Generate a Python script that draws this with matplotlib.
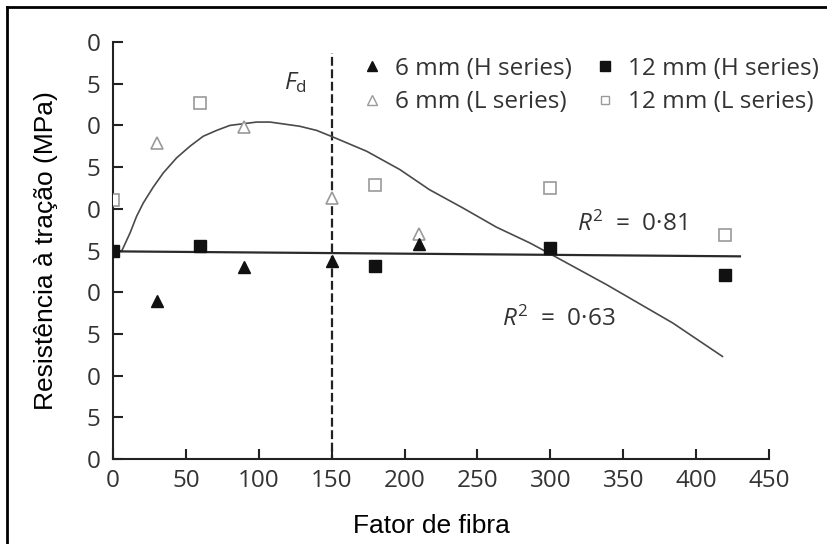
import matplotlib
matplotlib.use("Agg")
import matplotlib.pyplot as plt
from matplotlib.lines import Line2D

# ==========================================================
# DATA
# ==========================================================

x_6mm = [30, 90, 150, 210]
x_12mm = [0, 60, 180, 300, 420]

h6_y = [18.9, 23.0, 23.8, 25.8]
l6_y = [37.9, 39.8, 31.3, 27.0]
h12_y = [24.9, 25.5, 23.1, 25.3, 22.1]
l12_y = [31.1, 42.7, 32.8, 32.5, 26.9]

# fitted curve (L series)
curve_x = [5.9, 11.7, 16.2, 20.8, 27.6, 34.5, 43.6, 52.8, 61.9, 71.1,
           80.2, 89.4, 98.5, 107.7, 128, 139.7, 151, 174, 196.8,
           217, 240, 263, 286, 304, 338.6, 384, 418]
curve_y = [24.9, 27.1, 29.1, 30.7, 32.6, 34.3, 36.1, 37.5, 38.7, 39.4,
           40.0, 40.2, 40.4, 40.4, 39.9, 39.4, 38.6, 36.9, 34.7,
           32.3, 30.1, 27.8, 25.9, 24.2, 20.9, 16.3, 12.3]

# fitted line (H series)
line_x = [0, 430]
line_y = [24.9, 24.3]

fd_x = 150
fd_top = 48.7

x_ticks = [0, 50, 100, 150, 200, 250, 300, 350, 400, 450]
y_ticks = [0, 5, 10, 15, 20, 25, 30, 35, 40, 45, 50]
y_tick_labels = ["0", "5", "0", "5", "0", "5", "0", "5", "0", "5", "0"]

legend_labels = ["6 mm (H series)", "6 mm (L series)",
                 "12 mm (H series)", "12 mm (L series)"]

# ==========================================================
# STYLE
# ==========================================================

plt.rcParams["font.family"] = ["Open Sans", "DejaVu Sans"]
plt.rcParams["mathtext.fontset"] = "custom"
plt.rcParams["mathtext.rm"] = "Open Sans"
plt.rcParams["mathtext.it"] = "Open Sans:italic"

txt = "#333333"
gray = "#9a9a9a"
fs = 17.5

fig = plt.figure(figsize=(8.27, 5.44), dpi=100)
ax = fig.add_axes([0.1366, 0.1562, 0.7934, 0.7666])

# frame lines of the original scan (top and left only)
fig.add_artist(Line2D([0.0085, 0.0085], [0, 0.987], color="black",
                      linewidth=2, transform=fig.transFigure))
fig.add_artist(Line2D([0.0085, 1], [0.987, 0.987], color="black",
                      linewidth=2, transform=fig.transFigure))

# ==========================================================
# PLOT
# ==========================================================

ax.plot(curve_x, curve_y, color="#4a4a4a", linewidth=1.2, zorder=2)
ax.plot(line_x, line_y, color="#2a2a2a", linewidth=1.6, zorder=2)

ax.plot([fd_x, fd_x], [-0.6, fd_top], color="#222222", linewidth=1.6,
        linestyle=(0, (4, 1.6)), zorder=1)

ax.plot(x_12mm, l12_y, linestyle="none", marker="s", markersize=8,
        markerfacecolor="white", markeredgecolor=gray, markeredgewidth=1.2,
        zorder=3)
ax.plot(x_6mm, l6_y, linestyle="none", marker="^", markersize=8,
        markerfacecolor="white", markeredgecolor=gray, markeredgewidth=1.2,
        zorder=3)
ax.plot(x_12mm, h12_y, linestyle="none", marker="s", markersize=8,
        color="#111111", zorder=4)
ax.plot(x_6mm, h6_y, linestyle="none", marker="^", markersize=8,
        color="#111111", zorder=4)

# legend
handles = [
    Line2D([], [], linestyle="none", marker="^", markersize=7,
           color="#111111"),
    Line2D([], [], linestyle="none", marker="^", markersize=7,
           markerfacecolor="white", markeredgecolor=gray),
    Line2D([], [], linestyle="none", marker="s", markersize=6.5,
           color="#111111"),
    Line2D([], [], linestyle="none", marker="s", markersize=6,
           markerfacecolor="white", markeredgecolor=gray),
]
leg = ax.legend(handles, legend_labels, ncol=2, frameon=False,
                loc="upper right", bbox_to_anchor=(819 / 827, 1 - 57 / 544),
                bbox_transform=fig.transFigure,
                fontsize=fs, handlelength=0.8, handletextpad=0.55,
                columnspacing=0.95, labelspacing=0.38, borderpad=0,
                borderaxespad=0)
for t in leg.get_texts():
    t.set_color(txt)

# annotations
ax.text(125, 45.1, r"$F_{\mathrm{d}}$", fontsize=fs, color=txt,
        ha="center", va="center")
ax.text(318, 28.2, r"$R^2$  =  0·81", fontsize=fs, color=txt,
        ha="left", va="center")
ax.text(267, 16.8, r"$R^2$  =  0·63", fontsize=fs, color=txt,
        ha="left", va="center")

# axes
ax.set_xlim(0, 450)
ax.set_ylim(0, 50)
ax.set_xticks(x_ticks)
ax.set_yticks(y_ticks)
ax.set_yticklabels(y_tick_labels)

for side in ["top", "right"]:
    ax.spines[side].set_visible(False)
for side in ["left", "bottom"]:
    ax.spines[side].set_linewidth(1.5)
    ax.spines[side].set_color("#222222")

ax.tick_params(direction="in", length=7, width=1.5, color="#222222",
               labelsize=fs, labelcolor=txt)
ax.tick_params(axis="x", pad=7)
ax.tick_params(axis="y", pad=9)

ax.set_xlabel("Fator de fibra", family="Liberation Sans", fontsize=19,
              color="black")
ax.set_ylabel("Resistência à tração (MPa)", family="Liberation Sans",
              fontsize=19, color="black")
ax.xaxis.set_label_coords(0.485, -0.132)
ax.yaxis.set_label_coords(-0.084, 0.5)

fig.savefig("out.png", dpi=100)
